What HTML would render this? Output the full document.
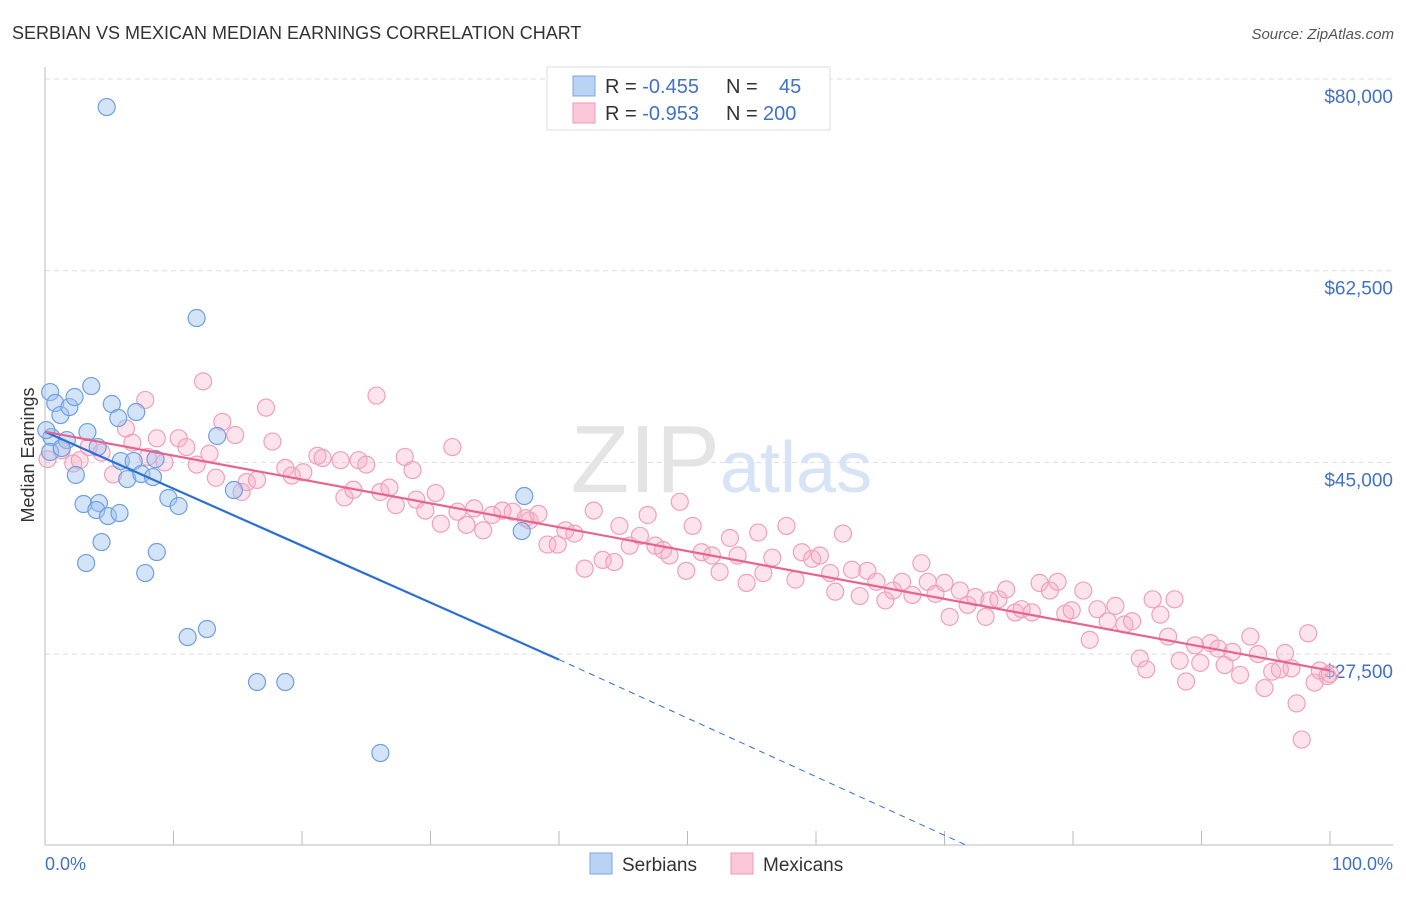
<!DOCTYPE html>
<html><head><meta charset="utf-8"><style>
body{margin:0;background:#fff;font-family:"Liberation Sans",sans-serif}
svg text{font-family:"Liberation Sans",sans-serif}
</style></head><body>
<svg id="chart" width="1406" height="892">
<text x="12" y="39" font-size="18" fill="#333">SERBIAN VS MEXICAN MEDIAN EARNINGS CORRELATION CHART</text>
<text x="1394" y="39" font-size="15" fill="#555" font-style="italic" text-anchor="end">Source: ZipAtlas.com</text>
<g id="grid"></g>
<text x="720" y="492" font-size="96" fill="#e4e4e4" text-anchor="end" font-family="Liberation Serif">ZIP</text>
<text x="720" y="492" font-size="72" fill="#d6e4f5">atlas</text>
<line x1="45" y1="67" x2="45" y2="845" stroke="#bbb"/>
<line x1="45" y1="845" x2="1393" y2="845" stroke="#bbb"/>
<g id="xticks"></g>
<g id="yticks"></g>
<text x="45" y="870" font-size="18" fill="#3f72c9">0.0%</text>
<text x="1393" y="870" font-size="18" fill="#3f72c9" text-anchor="end">100.0%</text>
<text transform="translate(34,455) rotate(-90)" font-size="18" fill="#333" text-anchor="middle">Median Earnings</text>
<g id="pts"></g>
<g id="trends"></g>
<g>
<rect x="547" y="67" width="283" height="63" fill="#fff" stroke="#ddd"/>
<rect x="573" y="76" width="22" height="20" fill="#b9d3f5" stroke="#7fa7e0"/>
<rect x="573" y="103" width="22" height="20" fill="#fac8d8" stroke="#ee9ab6"/>
<text x="605" y="93" font-size="20" fill="#333">R = <tspan fill="#3f72c9">-0.455</tspan><tspan x="726">N = </tspan><tspan x="779" fill="#3f72c9">45</tspan></text>
<text x="605" y="120" font-size="20" fill="#333">R = <tspan fill="#3f72c9">-0.953</tspan><tspan x="726">N = </tspan><tspan x="763" fill="#3f72c9">200</tspan></text>
</g>
<g>
<rect x="590" y="853" width="22" height="21" fill="#b9d3f5" stroke="#7fa7e0"/>
<text x="622" y="871" font-size="19" fill="#333">Serbians</text>
<rect x="731" y="853" width="22" height="21" fill="#fac8d8" stroke="#ee9ab6"/>
<text x="763" y="871" font-size="19" fill="#333">Mexicans</text>
</g>
</svg>
<script>
const yTicks=[80000,62500,45000,27500];
const yTickLabels=["$80,000","$62,500","$45,000","$27,500"];
const serbX=[0.4,4.8,0.8,1.2,1.9,2.3,3.6,0.5,1.7,3.3,4.1,5.2,5.7,7.1,0.4,5.9,6.9,8.6,2.4,6.4,7.5,8.4,3.0,4.2,4.0,4.9,5.8,9.6,10.4,13.4,14.7,11.8,4.4,8.7,3.2,7.8,11.1,12.6,16.5,18.7,26.1,37.3,37.1,0.1,1.3];
const serbY=[51420,77440,50420,49320,50050,50970,51970,47310,47040,47770,46400,50330,49050,49600,45950,45120,45120,45300,43850,43480,43940,43660,41200,41290,40650,40100,40380,41750,41020,47410,42480,58180,37730,36820,35810,34900,29060,29790,24950,24950,18470,41930,38730,47950,46310];
const mexX=[0.2,1.3,2.2,2.7,3.4,4.4,5.3,6.3,6.8,7.8,8.0,8.7,9.3,10.4,11.0,11.8,12.3,12.8,13.3,13.8,14.8,15.3,15.7,16.5,17.2,17.7,18.7,19.2,20.1,21.2,21.6,23.0,23.3,24.0,24.4,25.0,25.8,26.1,26.8,27.3,28.0,28.6,28.9,29.6,30.4,30.8,31.7,32.1,32.8,33.4,34.1,34.8,35.6,36.4,37.4,37.7,38.4,39.1,39.9,40.5,41.2,42.0,42.7,43.4,44.3,44.7,45.5,46.3,46.9,47.5,48.1,48.6,49.4,49.9,50.4,51.1,51.9,52.5,53.3,53.9,54.6,55.5,55.9,56.6,57.7,58.4,58.9,59.7,60.3,61.1,61.5,62.1,62.8,63.4,64.0,64.7,65.4,66.0,66.7,67.5,68.2,68.7,69.3,70.0,70.4,71.2,71.8,72.4,73.2,73.5,74.2,74.8,75.5,76.0,76.8,77.4,78.2,78.8,79.4,79.9,80.8,81.3,81.9,82.7,83.3,84.0,84.6,85.2,85.7,86.2,86.8,87.4,87.9,88.3,88.8,89.5,89.9,90.7,91.3,91.8,92.4,93.0,93.8,94.4,94.9,95.5,96.1,96.5,97.0,97.4,97.8,98.3,98.8,99.2,99.8,100];
const mexY=[45300,46100,44900,45200,46400,45900,43900,48100,46800,50700,45500,47200,45000,47200,46400,44800,52400,45800,43600,48700,47500,42300,43200,43400,50000,46900,44500,43800,44100,45600,45400,45200,41800,42500,45200,44800,51100,42300,42700,41100,45500,44300,41600,40600,42200,39400,46400,40500,39300,40800,38800,40200,40600,40500,39900,39700,40300,37500,37500,38800,38500,35300,40600,36100,35900,39200,37400,38300,40200,37400,37000,36500,41400,35100,39200,36800,36500,35000,38100,36500,34000,38600,34900,36300,39200,34300,36800,36200,36500,34900,33200,38500,35200,32800,35100,34100,32400,33300,34100,32900,35800,34100,33000,34000,30900,33300,32000,32700,30900,32400,32500,33400,31300,31600,31300,34000,33300,34100,31200,31500,33300,28800,31600,30500,31900,30200,30500,27100,26100,32500,31100,29100,32500,26900,25000,28300,26700,28500,28000,26500,27700,25600,29100,27500,24400,25900,26100,27600,26200,23000,19700,29400,24900,26000,25500,25700];
const serbTrend=[0,47800,40,27000,71.8,10000];
const mexTrend=[0,47800,100,26000];
const X=p=>45+p*12.85;
const Y=v=>79+(80000-v)/17500*191.7;
const NS="http://www.w3.org/2000/svg";
function mk(tag,attrs,parent){const e=document.createElementNS(NS,tag);for(const k in attrs)e.setAttribute(k,attrs[k]);parent.appendChild(e);return e;}
const grid=document.getElementById('grid'),yt=document.getElementById('yticks'),xt=document.getElementById('xticks');
yTicks.forEach((v,i)=>{
 const l=mk('line',{x1:45,x2:1393,y1:Y(v),y2:Y(v),stroke:'#ddd','stroke-dasharray':'5,4'},grid);
 
 
 const t=mk('text',{x:1393,y:Y(v)+24,'font-size':19,fill:'#3f72c9','text-anchor':'end'},yt);
 t.textContent=yTickLabels[i];
 
 
});
for(let i=0;i<=10;i++){const l=mk('line',{x1:X(i*10),x2:X(i*10),y1:831,y2:845,stroke:'#bbb'},xt);
 
 }
const pts=document.getElementById('pts');
mexX.forEach((x,i)=>{const c=mk('circle',{cx:X(x),cy:Y(mexY[i]),r:8.5,fill:'rgba(246,176,200,0.35)',stroke:'#f0a0bc','stroke-width':1.2},pts);
 
 });
serbX.forEach((x,i)=>{const c=mk('circle',{cx:X(x),cy:Y(serbY[i]),r:8.5,fill:'rgba(160,195,240,0.45)',stroke:'#6f9fe0','stroke-width':1.2},pts);
 
 });
const tr=document.getElementById('trends');
let a=mk('line',{x1:X(serbTrend[0]),y1:Y(serbTrend[1]),x2:X(serbTrend[2]),y2:Y(serbTrend[3]),stroke:'#2b6fd6','stroke-width':2.2},tr);


let b=mk('line',{x1:X(serbTrend[2]),y1:Y(serbTrend[3]),x2:X(serbTrend[4]),y2:Y(serbTrend[5]),stroke:'#2b6fd6','stroke-width':1,'stroke-dasharray':'6,5'},tr);


let c=mk('line',{x1:X(mexTrend[0]),y1:Y(mexTrend[1]),x2:X(mexTrend[2]),y2:Y(mexTrend[3]),stroke:'#e8648f','stroke-width':2.2},tr);


</script>
</body></html>
